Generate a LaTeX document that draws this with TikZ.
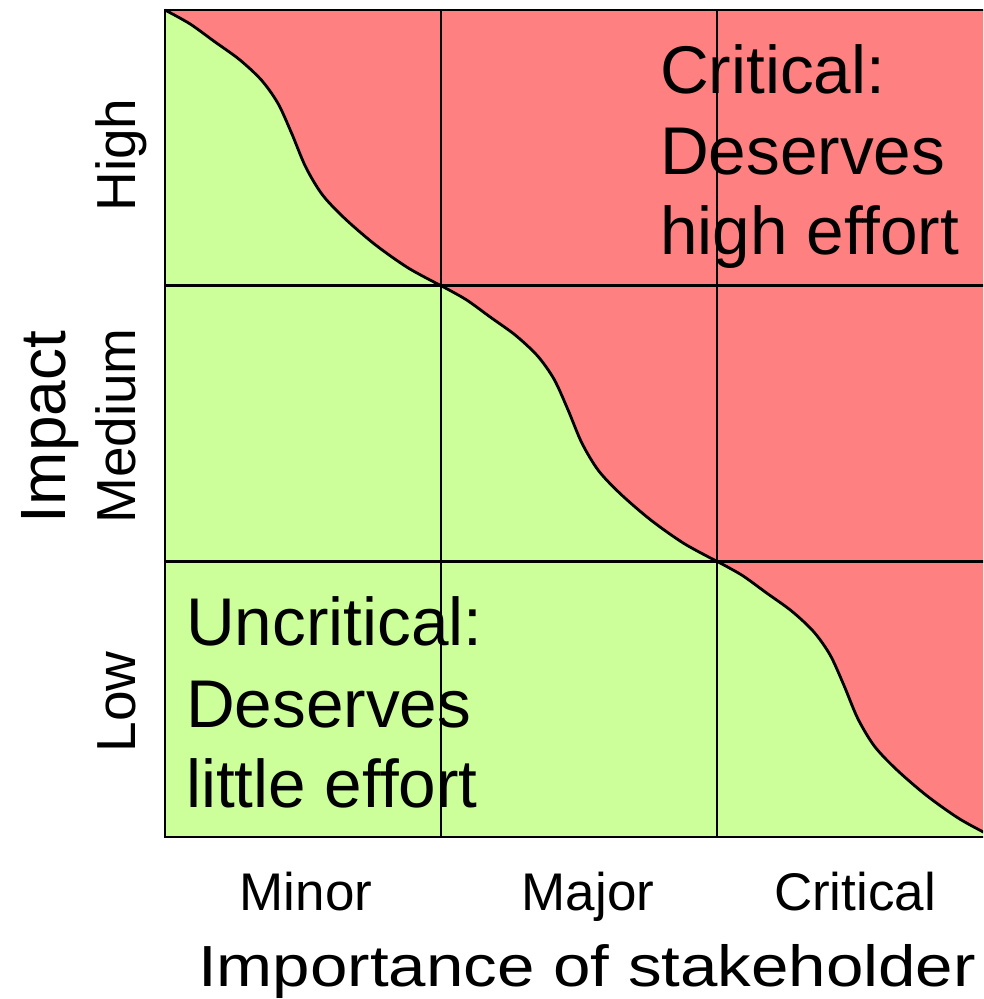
\documentclass[tikz,border=0pt]{standalone}
\usepackage{fontspec}
\setmainfont{Liberation Sans}
\definecolor{critred}{RGB}{255,128,128}
\definecolor{lowgreen}{RGB}{204,255,153}
\begin{document}
\begin{tikzpicture}[x=1pt,y=-1pt,
  gridline/.style={line width=2.8pt, black},
  curveline/.style={line width=2.8pt, black, line join=round},
  celltext/.style={font=\fontsize{67.5}{80}\selectfont, inner sep=0pt, anchor=base west},
  ticklabel/.style={font=\fontsize{53}{60}\selectfont, inner sep=0pt, anchor=base},
  sidelabel/.style={font=\fontsize{55}{60}\selectfont, inner sep=0pt, anchor=base, rotate=90},
  axislabel/.style={font=\fontsize{58}{64}\selectfont, inner sep=0pt, anchor=base}]
\useasboundingbox (0,0) rectangle (983,999);
\begin{scope}
\clip (0,0) rectangle (983,999);
\fill[lowgreen] (165,10) rectangle (993,837);
\fill[critred] (441,10) rectangle (993,285.67);
\fill[critred] (717,285.67) rectangle (993,561.33);
\foreach \k in {0,1,2} {
  \begin{scope}[shift={({165+276*\k},{10+275.67*\k})}, x=276pt, y=-275.67pt]
    \fill[critred] plot[smooth] coordinates {(0,0) (0.09,0.05) (0.18,0.115) (0.27,0.18) (0.35,0.255) (0.41,0.34) (0.46,0.45) (0.51,0.57) (0.57,0.67) (0.65,0.755) (0.76,0.85) (0.88,0.935) (1,1)} -- (1,0) -- cycle;
    \draw[curveline] plot[smooth] coordinates {(0,0) (0.09,0.05) (0.18,0.115) (0.27,0.18) (0.35,0.255) (0.41,0.34) (0.46,0.45) (0.51,0.57) (0.57,0.67) (0.65,0.755) (0.76,0.85) (0.88,0.935) (1,1)};
  \end{scope}
}
\draw[gridline] (165,285.67) -- (993,285.67);
\draw[gridline] (165,561.33) -- (993,561.33);
\draw[gridline] (441,10) -- (441,837);
\draw[gridline] (717,10) -- (717,837);
\draw[gridline] (165,10) rectangle (993,837);
\end{scope}
% cell texts
\node[celltext] (c1) at (660,93) {Critical:};
\node[celltext] (c2) at (660,174) {Deserves};
\node[celltext] (c3) at (660,254) {high effort};
\node[celltext] (u1) at (186,645) {Uncritical:};
\node[celltext] (u2) at (186,727) {Deserves};
\node[celltext] (u3) at (186,807) {little effort};
% x tick labels
\node[ticklabel] (minor) at (306,910) {Minor};
\node[ticklabel] (major) at (588,910) {Major};
\node[ticklabel] (critical) at (855,910) {Critical};
\node[axislabel, xscale=1.16] (xaxis) at (587,986) {Importance of stakeholder};
% y labels
\node[sidelabel] (high) at (135,155) {High};
\node[sidelabel] (medium) at (135,426) {Medium};
\node[sidelabel] (low) at (135,702) {Low};
\node[sidelabel, font=\fontsize{64}{70}\selectfont] (yaxis) at (65,427) {Impact};
\end{tikzpicture}
\end{document}
